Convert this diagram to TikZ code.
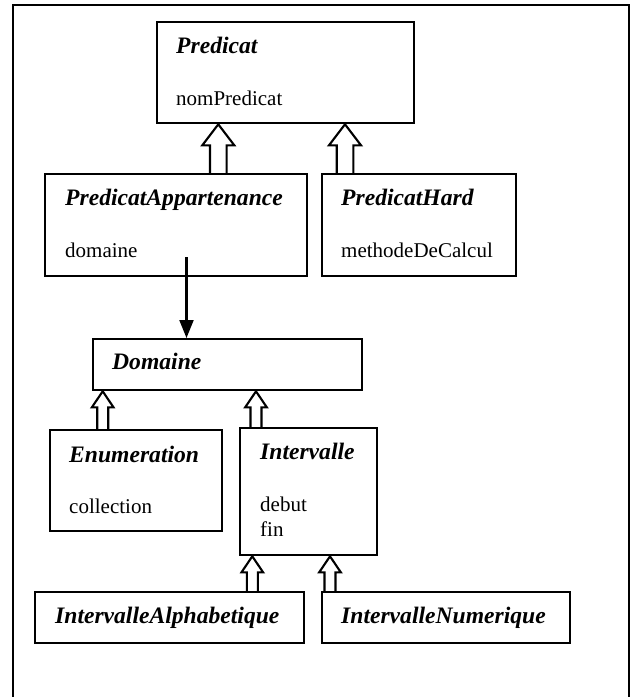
\documentclass[tikz,border=0pt]{standalone}
\usepackage{fontspec}
\setmainfont{Liberation Serif}
\usetikzlibrary{calc,arrows.meta}

\newcommand\titlefont{\fontsize{23.6}{28}\selectfont\bfseries\itshape}
\newcommand\attrfont{\fontsize{21}{25}\selectfont}

% hollow UML generalisation arrow: #1 base point on the child box,
% #2 parent node, #3 stem half width, #4 head half width, #5 head length
\newcommand\inherit[5]{%
  \draw[genarrow]
    ($(#1)+(-#3,0)$) -- ($(#1 |- #2.south)+(-#3,#5)$)
    -- ($(#1 |- #2.south)+(-#4,#5)$) -- (#1 |- #2.south)
    -- ($(#1 |- #2.south)+(#4,#5)$) -- ($(#1 |- #2.south)+(#3,#5)$)
    -- ($(#1)+(#3,0)$);}

\begin{document}
\begin{tikzpicture}[x=1pt, y=-1pt,
  cls/.style={draw, line width=2.3pt, rectangle, anchor=north west, inner sep=0pt},
  ttl/.style={anchor=base west, inner sep=0pt, font=\titlefont},
  attr/.style={anchor=base west, inner sep=0pt, font=\attrfont},
  genarrow/.style={line width=2.1pt, line join=miter},
  assoc/.style={line width=2.1pt, -{Triangle[length=18pt,width=14pt]}},
  frame/.style={line width=2.2pt}]

\useasboundingbox (0,0) rectangle (634,697);

% outer frame (runs off the bottom edge)
\draw[frame] (12.7,720) -- (12.7,5) -- (629.3,5) -- (629.3,720);

% class boxes
\node[cls, minimum width=257pt, minimum height=101pt] (pred) at (156,21) {};
\node[cls, minimum width=262pt, minimum height=102pt] (pa)   at (44,173) {};
\node[cls, minimum width=194pt, minimum height=102pt] (ph)   at (321,173) {};
\node[cls, minimum width=269pt, minimum height=51pt]  (dom)  at (92,338) {};
\node[cls, minimum width=172pt, minimum height=101pt] (enu)  at (49,429) {};
\node[cls, minimum width=137pt, minimum height=127pt] (itv)  at (239,427) {};
\node[cls, minimum width=269pt, minimum height=51pt]  (ia)   at (34,591) {};
\node[cls, minimum width=248pt, minimum height=51pt]  (inum) at (321,591) {};

% class names and attributes
\node[ttl]  (predT) at (176,53)  {Predicat};
\node[attr] (predA) at (176,105) {nomPredicat};
\node[ttl]  (paT)   at (65,205)  {PredicatAppartenance};
\node[attr] (paA)   at (65,257)  {domaine};
\node[ttl]  (phT)   at (341,205) {PredicatHard};
\node[attr] (phA)   at (341,257) {methodeDeCalcul};
\node[ttl]  (domT)  at (112,369) {Domaine};
\node[ttl]  (enuT)  at (69,462)  {Enumeration};
\node[attr] (enuA)  at (69,513)  {collection};
\node[ttl]  (itvT)  at (260,459) {Intervalle};
\node[attr] (itvA)  at (260,511) {debut};
\node[attr] (itvB)  at (260,536) {fin};
\node[ttl]  (iaT)   at (55,623)  {IntervalleAlphabetique};
\node[ttl]  (inumT) at (341,623) {IntervalleNumerique};

% base points of the inheritance arrows on the child boxes
\coordinate (g1) at ($(pa.north west)+(174.3,0)$);
\coordinate (g2) at ($(ph.north west)+(24,0)$);
\coordinate (g3) at ($(enu.north west)+(53.7,0)$);
\coordinate (g4) at ($(itv.north west)+(17,0)$);
\coordinate (g5) at ($(ia.north west)+(218.3,0)$);
\coordinate (g6) at ($(inum.north west)+(9,0)$);

\inherit{g1}{pred}{8.3}{16}{21}
\inherit{g2}{pred}{8.3}{16}{21}
\inherit{g3}{dom}{5.5}{10.8}{16}
\inherit{g4}{dom}{5.5}{10.8}{16}
\inherit{g5}{itv}{5.5}{10.8}{16}
\inherit{g6}{itv}{5.5}{10.8}{16}

% association PredicatAppartenance.domaine -> Domaine
\coordinate (as) at ($(pa.north west)+(142.5,84)$);
\draw[assoc] (as) -- (as |- dom.north);
\end{tikzpicture}
\end{document}
